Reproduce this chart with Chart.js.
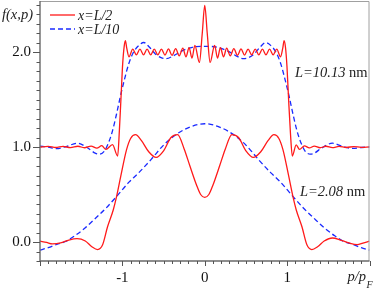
<!DOCTYPE html>
<html><head><meta charset="utf-8">
<script src="https://cdn.jsdelivr.net/npm/chart.js@4/dist/chart.umd.min.js"></script>
<style>html,body{margin:0;padding:0;background:#fff;overflow:hidden;}</style>
</head><body>
<canvas id="c" width="374" height="289" style="width:374px;height:289px;display:block"></canvas>
<script>
// ---- data ----
// L = 10.13 nm, x = L/2 (red solid)
const pWideHalf = [-2.00,-1.90,-1.81,-1.72,-1.63,-1.54,-1.46,-1.38,-1.31,-1.25,-1.20,-1.12,-1.057,-1.036,-1.016,-0.996,-0.978,-0.963,-0.947,-0.920,-0.874,-0.830,-0.787,-0.743,-0.700,-0.656,-0.613,-0.570,-0.526,-0.483,-0.440,-0.397,-0.353,-0.310,-0.266,-0.228,-0.190,-0.155,-0.120,-0.065,-0.030,0.000,
  0.030,0.065,0.120,0.155,0.190,0.228,0.266,0.310,0.353,0.397,0.440,0.483,0.526,0.570,0.613,0.656,0.700,0.743,0.787,0.830,0.874,0.920,0.947,0.963,0.980,0.998,1.018,1.040,1.063,1.11,1.15,1.21,1.27,1.33,1.40,1.47,1.55,1.63,1.72,1.81,1.90,2.00];
const fWideHalf = [1.000,1.006,0.995,1.006,0.994,1.008,0.992,1.010,0.988,1.014,0.975,1.025,0.905,1.180,1.530,1.880,2.060,2.120,2.040,1.950,2.030,1.970,2.030,1.970,2.030,1.970,2.030,1.970,2.030,1.968,2.032,1.965,2.035,1.960,2.040,1.950,2.045,1.935,2.070,1.890,2.200,2.490,
  2.200,1.890,2.070,1.935,2.045,1.950,2.040,1.960,2.035,1.965,2.032,1.968,2.030,1.970,2.030,1.970,2.030,1.970,2.030,1.970,2.030,1.950,2.040,2.120,2.050,1.850,1.500,1.150,0.905,1.022,0.975,1.012,0.990,1.010,0.992,1.008,0.994,1.006,0.995,1.005,0.996,1.002];
// L = 10.13 nm, x = L/10 (blue dashed)
const pWideTenth = [-2.00,-1.90,-1.80,-1.68,-1.55,-1.42,-1.33,-1.28,-1.22,-1.17,-1.12,-1.07,-1.02,-0.975,-0.925,-0.87,-0.80,-0.74,-0.67,-0.60,-0.53,-0.47,-0.38,-0.28,-0.15,0.00,
  0.15,0.28,0.38,0.47,0.53,0.60,0.67,0.74,0.80,0.87,0.925,0.975,1.02,1.07,1.12,1.17,1.22,1.28,1.33,1.42,1.55,1.68,1.80,1.90,2.00];
const fWideTenth = [1.010,1.000,0.982,1.005,1.040,0.990,0.935,0.925,0.955,1.040,1.170,1.350,1.550,1.710,1.870,1.990,2.070,2.100,2.050,1.980,1.940,1.930,1.960,2.010,2.050,2.060,
  2.050,2.010,1.960,1.930,1.940,1.980,2.050,2.100,2.070,1.990,1.870,1.710,1.550,1.350,1.170,1.040,0.955,0.925,0.935,0.990,1.040,1.005,0.985,0.995,1.000];
// L = 2.08 nm, x = L/2 (red solid)
const pNarrowHalf = [-2.00,-1.92,-1.85,-1.75,-1.65,-1.55,-1.45,-1.37,-1.30,-1.24,-1.18,-1.11,-1.07,-1.02,-0.95,-0.90,-0.84,-0.77,-0.68,-0.59,-0.50,-0.41,-0.33,-0.25,-0.18,-0.10,-0.05,0.00,
  0.05,0.10,0.18,0.25,0.33,0.41,0.50,0.59,0.68,0.77,0.84,0.90,0.95,1.02,1.07,1.11,1.18,1.24,1.30,1.37,1.45,1.55,1.65,1.75,1.85,1.92,2.00];
const fNarrowHalf = [0.010,-0.005,-0.020,-0.010,0.020,0.035,0.010,-0.050,-0.080,-0.030,0.160,0.340,0.480,0.690,0.970,1.090,1.130,1.070,0.950,0.890,0.960,1.100,1.130,0.980,0.800,0.600,0.500,0.470,
  0.500,0.600,0.800,0.980,1.130,1.100,0.960,0.890,0.950,1.070,1.130,1.090,0.970,0.690,0.480,0.340,0.160,-0.030,-0.080,-0.050,0.010,0.042,0.020,-0.010,-0.028,-0.012,0.010];
// L = 2.08 nm, x = L/10 (blue dashed)
const pNarrowTenth = [-2.00,-1.90,-1.78,-1.69,-1.57,-1.45,-1.32,-1.20,-1.07,-0.92,-0.80,-0.65,-0.50,-0.35,-0.18,0.00,
  0.18,0.35,0.50,0.65,0.80,0.92,1.07,1.20,1.32,1.45,1.57,1.69,1.78,1.90,2.00];
const fNarrowTenth = [-0.085,-0.060,-0.020,0.005,0.070,0.150,0.255,0.355,0.480,0.630,0.730,0.870,1.020,1.130,1.210,1.245,
  1.210,1.130,1.020,0.870,0.730,0.630,0.480,0.355,0.255,0.150,0.070,0.005,-0.020,-0.060,-0.085];

const xTickLabels = {"-1":"-1","0":"0","1":"1"};
const yTickLabels = {"0":"0.0","1":"1.0","2":"2.0"};
const legendItems = [
  {text:"x=L/2", color:"#ff1a1a", dash:[]},
  {text:"x=L/10", color:"#1a2aff", dash:[5,3]}
];
const notes = [
  {x:1.095, y:1.78, main:"L=10.13", unit:" nm"},
  {x:1.155, y:0.525, main:"L=2.08", unit:" nm"}
];

const RED = "#ff1a1a", BLUE = "#1a2aff";
const SERIF = "'Liberation Serif','Times New Roman',serif";
const pts = (xs, ys) => xs.map((v, i) => ({x: v, y: ys[i]}));
const isInt = v => Math.abs(v - Math.round(v)) < 1e-6;
const keyOf = v => String(Math.round(v));

const line = (label, xs, ys, color, dash) => ({
  label, data: pts(xs, ys), borderColor: color, borderWidth: 1.3, borderDash: dash,
  pointRadius: 0, fill: false, cubicInterpolationMode: 'monotone'
});

const deco = {
  id: 'deco',
  afterDraw(chart) {
    const {ctx, chartArea: a, scales: {x, y}} = chart;
    ctx.save();
    // frame
    ctx.strokeStyle = '#a0a0a0'; ctx.lineWidth = 1;
    ctx.beginPath();
    ctx.moveTo(a.left, a.top + 0.5); ctx.lineTo(a.right - 0.5, a.top + 0.5); ctx.lineTo(a.right - 0.5, a.bottom);
    ctx.stroke();
    ctx.strokeStyle = '#6a6a6a'; ctx.lineWidth = 1.4;
    ctx.beginPath();
    ctx.moveTo(a.left, a.top); ctx.lineTo(a.left, a.bottom); ctx.lineTo(a.right, a.bottom);
    ctx.stroke();
    // tick marks
    ctx.strokeStyle = '#555'; ctx.lineWidth = 1;
    x.ticks.forEach(t => {
      const px = Math.round(x.getPixelForValue(t.value)) + 0.5;
      const len = isInt(t.value) ? 5 : 3;
      ctx.beginPath(); ctx.moveTo(px, a.bottom); ctx.lineTo(px, a.bottom + len); ctx.stroke();
    });
    y.ticks.forEach(t => {
      const py = Math.round(y.getPixelForValue(t.value)) + 0.5;
      const len = isInt(t.value) ? 7 : 3.5;
      ctx.beginPath(); ctx.moveTo(a.left, py); ctx.lineTo(a.left - len, py); ctx.stroke();
    });
    // legend
    ctx.textBaseline = 'middle'; ctx.textAlign = 'left';
    ctx.font = 'italic 14px ' + SERIF; ctx.fillStyle = '#222';
    legendItems.forEach((it, i) => {
      const ly = 15 + i * 14;
      ctx.strokeStyle = it.color; ctx.lineWidth = 1.3; ctx.setLineDash(it.dash);
      ctx.beginPath(); ctx.moveTo(50, ly); ctx.lineTo(75, ly); ctx.stroke();
      ctx.setLineDash([]);
      ctx.fillText(it.text, 78, ly + 1);
    });
    // notes
    notes.forEach(n => {
      const px = x.getPixelForValue(n.x), py = y.getPixelForValue(n.y);
      ctx.font = 'italic 14.5px ' + SERIF;
      ctx.fillText(n.main, px, py);
      const w = ctx.measureText(n.main).width;
      ctx.font = '14.5px ' + SERIF;
      ctx.fillText(n.unit, px + w, py);
    });
    // axis titles
    ctx.font = 'italic 14.5px ' + SERIF; ctx.textBaseline = 'alphabetic';
    ctx.fillText('f(x,p)', 2, 19);
    ctx.textAlign = 'right';
    ctx.fillText('p/p', 366, 281);
    ctx.textAlign = 'left'; ctx.font = 'italic 10px ' + SERIF;
    ctx.fillText('F', 366.5, 288);
    ctx.restore();
  }
};

new Chart(document.getElementById('c'), {
  type: 'line',
  data: {datasets: [
    line('x=L/2, L=10.13 nm', pWideHalf, fWideHalf, RED, []),
    line('x=L/2, L=2.08 nm', pNarrowHalf, fNarrowHalf, RED, []),
    line('x=L/10, L=10.13 nm', pWideTenth, fWideTenth, BLUE, [5,3]),
    line('x=L/10, L=2.08 nm', pNarrowTenth, fNarrowTenth, BLUE, [5,3])
  ]},
  options: {
    responsive: false, animation: false, devicePixelRatio: 1,
    layout: {padding: {top: 1, right: 4.5, left: 0, bottom: 0}},
    plugins: {legend: {display: false}, tooltip: {enabled: false}},
    scales: {
      x: {
        type: 'linear', min: -2, max: 2,
        afterFit(s) { s.height = 28; s.paddingLeft = 0; s.paddingRight = 0; },
        grid: {display: false, drawTicks: false}, border: {display: false},
        ticks: {stepSize: 0.1, autoSkip: false, maxRotation: 0, padding: 8, includeBounds: false,
          color: '#111', font: {family: SERIF, size: 15},
          callback: v => isInt(v) ? (xTickLabels[keyOf(v)] || '') : ''}
      },
      y: {
        type: 'linear', min: -0.2, max: 2.537,
        afterFit(s) { s.width = 40; s.paddingTop = 0; s.paddingBottom = 0; },
        grid: {display: false, drawTicks: false}, border: {display: false},
        ticks: {stepSize: 0.1, autoSkip: false, padding: 9, includeBounds: false,
          color: '#111', font: {family: SERIF, size: 15},
          callback: v => isInt(v) ? (yTickLabels[keyOf(v)] || '') : ''}
      }
    }
  },
  plugins: [deco]
});
</script>
</body></html>
